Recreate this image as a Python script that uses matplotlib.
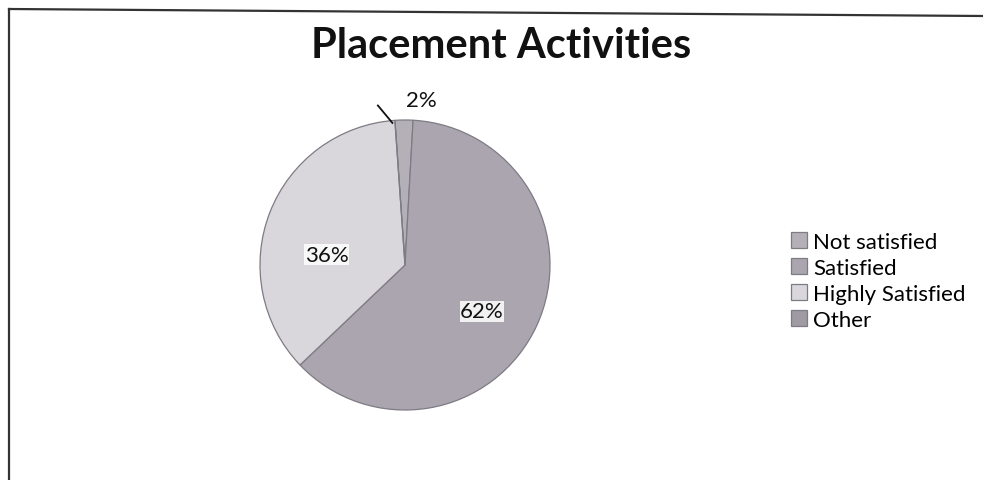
import matplotlib
matplotlib.use("Agg")
import matplotlib.pyplot as plt
import numpy as np

categories = ["Not satisfied", "Satisfied", "Highly Satisfied", "Other"]
values = [2, 62, 36, 0]
colors = ["#b4b0b8", "#aaa5af", "#d9d6dc", "#9f9aa4"]
title = "Placement Activities"

plt.rcParams['font.family'] = ['Lato', 'DejaVu Sans']

W, H = 983, 481
fig = plt.figure(figsize=(W / 100, H / 100), dpi=100)
fig.patch.set_facecolor("white")

# chart frame (left and top edges visible in scan)
fig.add_artist(plt.Line2D([9 / W, 9 / W], [1 - 10 / H, 0], color="#333333", lw=1.6))
fig.add_artist(plt.Line2D([9 / W, 1], [1 - 10 / H, 1 - 17 / H], color="#333333", lw=1.6))

cx, cy, R = 405, 266, 145
ax = fig.add_axes([(cx - R) / W, (H - cy - R) / H, 2 * R / W, 2 * R / H])

def fmt(p):
    return f"{p:.0f}%" if p >= 5 else ""

startangle = 94
wedges, texts, autotexts = ax.pie(values, colors=colors, startangle=startangle,
                                  counterclock=False, autopct=fmt, pctdistance=0.6,
                                  wedgeprops=dict(edgecolor="#7f7b85", linewidth=0.9),
                                  textprops=dict(fontsize=16, color="#111111"))
label_pos = {1: (0.53, -0.32), 2: (-0.54, 0.07)}
for i, t in enumerate(autotexts):
    if t.get_text():
        t.set_bbox(dict(facecolor="white", edgecolor="none", pad=0.3, alpha=0.85))
        if i in label_pos:
            t.set_position(label_pos[i])
ax.set_xlim(-1, 1)
ax.set_ylim(-1, 1)
ax.set_aspect("auto")

# small slice label with leader line
total = sum(values)
mid = np.deg2rad(startangle - values[0] / total * 360 / 2)
ex, ey = np.cos(mid), np.sin(mid)
ax.plot([ex - 0.08, ex - 0.18], [ey - 0.02, ey + 0.10], color="#111111", lw=1.3, clip_on=False)
ax.text(ex + 0.12, ey + 0.14, f"{values[0]}%", fontsize=16, ha="center", va="center",
        color="#111111")

fig.text(0.51, 1 - 46 / H, title, fontsize=30, fontweight="bold", ha="center", va="center",
         color="#111111")

fig.legend(wedges, categories, loc="center left", bbox_to_anchor=(780 / W, 1 - 282 / H),
           frameon=False, fontsize=16, handlelength=0.7, handleheight=0.7,
           handletextpad=0.3, labelspacing=0.27, borderpad=0)

fig.savefig("out.png", dpi=100)
